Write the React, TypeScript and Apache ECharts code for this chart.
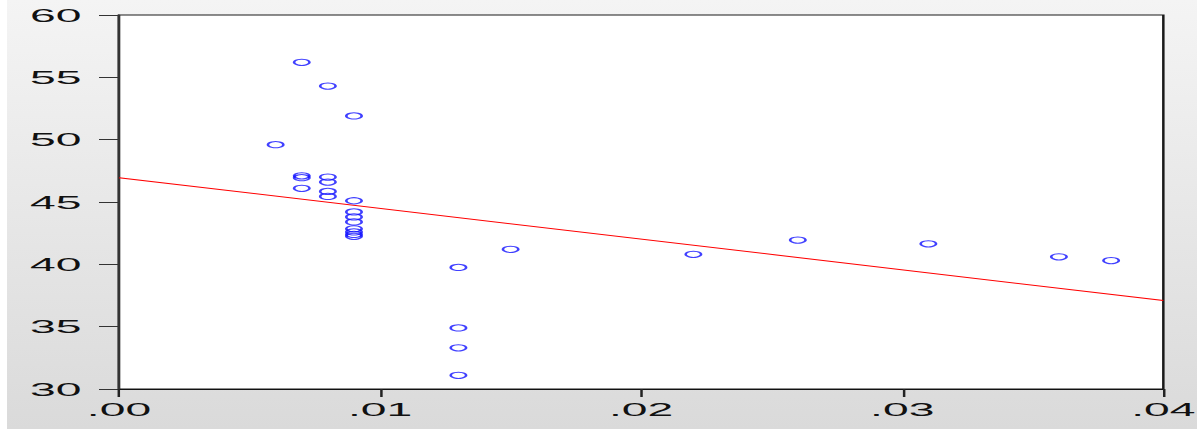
import React, { useEffect, useRef } from "react";
import * as echarts from "echarts";

// Scatter of observations (x share vs. y level) with a fitted OLS line.
const xs = [
  0.007, 0.008, 0.009, 0.006, 0.007, 0.007, 0.007, 0.008, 0.008, 0.008,
  0.008, 0.009, 0.009, 0.009, 0.009, 0.009, 0.009, 0.009, 0.009, 0.013,
  0.013, 0.013, 0.013, 0.015, 0.022, 0.026, 0.031, 0.036, 0.038,
];
const ys = [
  56.2, 54.3, 51.9, 49.6, 47.1, 46.95, 46.1, 47.0, 46.6, 45.85,
  45.45, 45.1, 44.2, 43.8, 43.4, 42.85, 42.6, 42.4, 42.25, 39.75,
  34.9, 33.3, 31.1, 41.2, 40.8, 41.95, 41.65, 40.6, 40.3,
];

// Fitted regression line, evaluated at the ends of the x range.
const fitX = [0, 0.04];
const fitY = [46.95, 37.1];

const xTicks = { min: 0, max: 0.04, interval: 0.01 };
const yTicks = { min: 30, max: 60, interval: 5 };

// The graph is laid out in a narrow frame and widened horizontally.
const OUTER_W = 1203;
const OUTER_H = 429;
const INNER_W = 481;
const STRETCH = OUTER_W / INNER_W;

const FONT = "'Liberation Sans', Arial, sans-serif";

export default function App() {
  const ref = useRef<HTMLDivElement>(null);

  useEffect(() => {
    if (!ref.current) return;
    const chart = echarts.init(ref.current, undefined, { renderer: "svg" });

    const points = xs.map((x, i) => [x, ys[i]]);
    const fit = fitX.map((x, i) => [x, fitY[i]]);

    chart.setOption({
      animation: false,
      backgroundColor: "#ffffff",
      graphic: [
        {
          type: "rect",
          z: -100,
          silent: true,
          shape: { x: 7 / STRETCH, y: 0, width: 1190 / STRETCH, height: OUTER_H },
          style: {
            fill: new echarts.graphic.LinearGradient(0, 0, 0, 1, [
              { offset: 0, color: "#f4f4f4" },
              { offset: 1, color: "#dadada" },
            ]),
          },
        },
      ],
      grid: {
        left: 119 / STRETCH,
        right: INNER_W - 1167.5 / STRETCH,
        top: 15,
        bottom: OUTER_H - 389,
        show: true,
        backgroundColor: "#ffffff",
        borderColor: "#1a1a1a",
        borderWidth: 1,
      },
      xAxis: {
        type: "value",
        min: xTicks.min,
        max: xTicks.max,
        interval: xTicks.interval,
        axisLine: { show: true, lineStyle: { color: "#111", width: 1 } },
        axisTick: { show: true, length: 8, lineStyle: { color: "#222", width: 1 } },
        axisLabel: {
          margin: 11,
          color: "#111",
          fontFamily: FONT,
          fontSize: 18.5,
          formatter: (v: number) => v.toFixed(2).replace(/^0/, ""),
        },
        splitLine: { show: false },
      },
      yAxis: {
        type: "value",
        min: yTicks.min,
        max: yTicks.max,
        interval: yTicks.interval,
        axisLine: { show: true, lineStyle: { color: "#333", width: 1 } },
        axisTick: { show: true, length: 8, lineStyle: { color: "#333", width: 1 } },
        axisLabel: {
          margin: 15,
          color: "#111",
          fontFamily: FONT,
          fontSize: 18.5,
        },
        splitLine: { show: false },
      },
      series: [
        {
          type: "line",
          data: fit,
          showSymbol: false,
          symbol: "none",
          lineStyle: { color: "#ff0000", width: 1 },
          z: 2,
        },
        {
          type: "scatter",
          data: points,
          symbol: "circle",
          symbolSize: 6.2,
          itemStyle: {
            color: "rgba(0,0,0,0)",
            borderColor: "#1010ff",
            borderWidth: 1,
          },
          z: 3,
        },
      ],
    });

    return () => chart.dispose();
  }, []);

  return (
    <div
      style={{
        position: "fixed",
        left: 0,
        top: 0,
        width: OUTER_W,
        height: OUTER_H,
        overflow: "hidden",
        background: "#ffffff",
      }}
    >
      <div
        ref={ref}
        style={{
          width: INNER_W,
          height: OUTER_H,
          transform: `scaleX(${STRETCH})`,
          transformOrigin: "left top",
        }}
      />
    </div>
  );
}
